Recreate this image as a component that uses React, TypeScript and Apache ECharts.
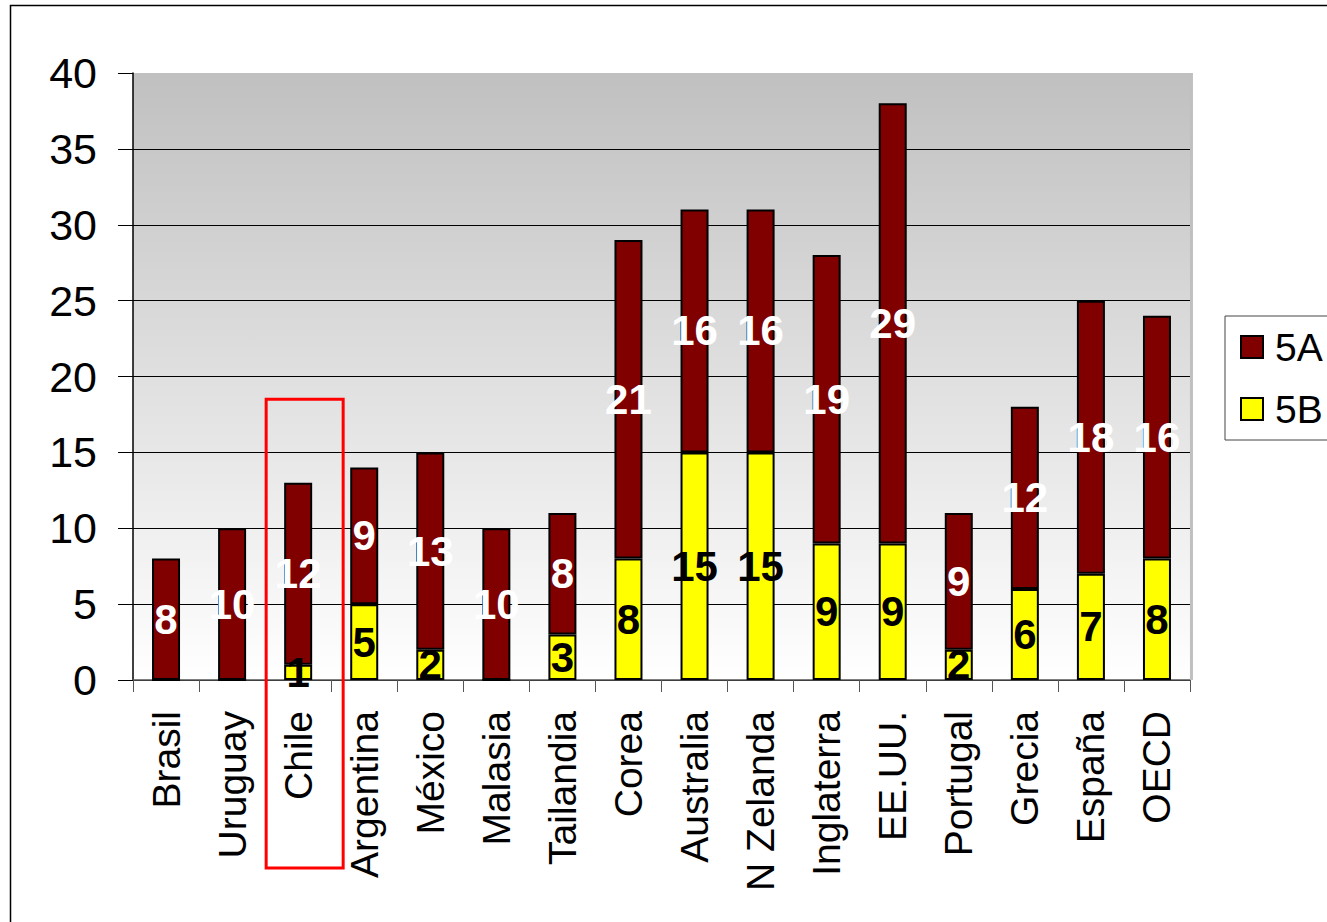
import React, { useEffect, useRef } from "react";
import * as echarts from "echarts";

const categories = [
  "Brasil", "Uruguay", "Chile", "Argentina", "México", "Malasia", "Tailandia", "Corea",
  "Australia", "N Zelanda", "Inglaterra", "EE.UU.", "Portugal", "Grecia", "España", "OECD",
];
const values5B = [0, 0, 1, 5, 2, 0, 3, 8, 15, 15, 9, 9, 2, 6, 7, 8];
const values5A = [8, 10, 12, 9, 13, 10, 8, 21, 16, 16, 19, 29, 9, 12, 18, 16];
const yTicks = { min: 0, max: 40, interval: 5 };
const highlighted = "Chile";
const highlightTop = 18.5;

const FONT = "'Liberation Sans', Arial, sans-serif";

export default function App() {
  const ref = useRef<HTMLDivElement>(null);
  useEffect(() => {
    if (!ref.current) return;
    const chart = echarts.init(ref.current, null, { renderer: "svg" });
    const labelFmt = (p: any) => (p.value === 0 ? "" : String(p.value));
    chart.setOption({
      animation: false,
      backgroundColor: "#ffffff",
      textStyle: { fontFamily: FONT },
      grid: {
        left: 133,
        right: 137,
        top: 73,
        bottom: 242,
        show: true,
        borderWidth: 0,
        backgroundColor: new echarts.graphic.LinearGradient(0, 0, 0, 1, [
          { offset: 0, color: "#c0c0c0" },
          { offset: 1, color: "#ffffff" },
        ]),
      },
      legend: {
        orient: "vertical",
        left: 1225,
        top: 316,
        padding: [10, 60, 10, 15],
        itemWidth: 22,
        itemHeight: 22,
        itemGap: 20,
        borderColor: "#444",
        borderWidth: 1,
        backgroundColor: "#fff",
        icon: "rect",
        itemStyle: { borderColor: "#000", borderWidth: 2 },
        textStyle: {
          fontSize: 39,
          color: "#000",
          fontFamily: FONT,
          lineHeight: 42,
          padding: [0, 0, 0, 7],
        },
        data: ["5A", "5B"],
      },
      xAxis: {
        type: "category",
        data: categories,
        boundaryGap: true,
        axisLine: { lineStyle: { color: "#555", width: 1.5 } },
        axisTick: { show: true, length: 12, alignWithLabel: false, lineStyle: { color: "#555" } },
        axisLabel: {
          rotate: 90,
          fontSize: 39,
          color: "#000",
          margin: 31,
          interval: 0,
          fontFamily: FONT,
        },
      },
      yAxis: {
        type: "value",
        min: yTicks.min,
        max: yTicks.max,
        interval: yTicks.interval,
        axisLine: { show: true, lineStyle: { color: "#000", width: 1.5 } },
        axisTick: { show: true, length: 15, lineStyle: { color: "#000" } },
        axisLabel: { fontSize: 43, color: "#000", margin: 36, fontFamily: FONT },
        splitLine: { show: true, showMaxLine: false, lineStyle: { color: "#000", width: 1 } },
      },
      series: [
        {
          name: "5B",
          type: "bar",
          stack: "total",
          barWidth: 28,
          data: values5B,
          itemStyle: { color: "#ffff00", borderColor: "#000", borderWidth: 2 },
          label: {
            show: true,
            position: "inside",
            formatter: labelFmt,
            color: "#000",
            fontSize: 42,
            fontWeight: "bold",
            fontFamily: FONT,
          },
        },
        {
          name: "5A",
          type: "bar",
          stack: "total",
          barWidth: 28,
          data: values5A,
          itemStyle: { color: "#800000", borderColor: "#000", borderWidth: 2 },
          label: {
            show: true,
            position: "inside",
            formatter: labelFmt,
            color: "#fff",
            fontSize: 42,
            fontWeight: "bold",
            fontFamily: FONT,
          },
        },
      ],
    });

    const cx = chart.convertToPixel({ xAxisIndex: 0 }, highlighted) as number;
    const top = chart.convertToPixel({ yAxisIndex: 0 }, highlightTop) as number;
    const plotRight = (chart.convertToPixel({ xAxisIndex: 0 }, categories[categories.length - 1]) as number) + 33;
    const plotTop = chart.convertToPixel({ yAxisIndex: 0 }, yTicks.max) as number;
    const plotBottom = chart.convertToPixel({ yAxisIndex: 0 }, yTicks.min) as number;
    chart.setOption({
      graphic: [
        {
          type: "rect",
          shape: { x: 10.5, y: 5.5, width: 1500, height: 1200 },
          style: { fill: "none", stroke: "#000", lineWidth: 1.5 },
          silent: true,
          z: 100,
        },
        {
          type: "line",
          shape: { x1: plotRight + 1.5, y1: plotTop, x2: plotRight + 1.5, y2: plotBottom },
          style: { stroke: "#c0c0c0", lineWidth: 3 },
          silent: true,
          z: 100,
        },
        {
          type: "rect",
          shape: { x: cx - 32, y: top, width: 77, height: 868 - top },
          style: { fill: "none", stroke: "#ff0000", lineWidth: 3 },
          silent: true,
          z: 100,
        },
      ],
    });
    return () => chart.dispose();
  }, []);
  return (
    <div
      ref={ref}
      style={{ position: "fixed", left: 0, top: 0, width: 1327, height: 922, background: "#fff" }}
    />
  );
}
